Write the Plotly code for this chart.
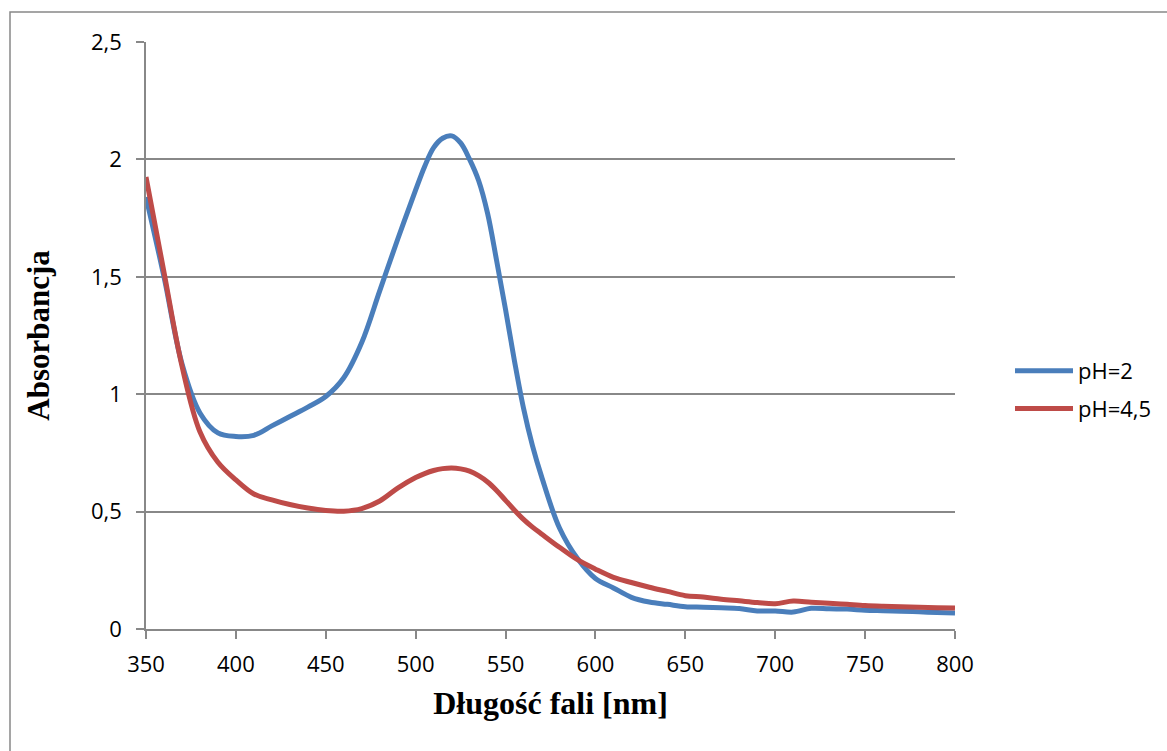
import plotly.graph_objects as go

wavelength = [350, 360, 370, 380, 390, 400, 410, 420, 430, 440, 450, 460, 470, 480, 490,
              500, 505, 510, 515, 520, 525, 530, 535, 540, 545, 550, 555, 560, 565, 570, 580, 590,
              600, 610, 620, 630, 640, 650, 660, 670, 680, 690, 700, 710, 720, 730, 740, 750,
              760, 770, 780, 790, 800]

abs_ph2 = [1.84, 1.50, 1.13, 0.92, 0.835, 0.82, 0.825, 0.865, 0.905, 0.945, 0.99, 1.07, 1.22, 1.44, 1.66,
           1.87, 1.97, 2.05, 2.09, 2.10, 2.07, 2.00, 1.91, 1.77, 1.57, 1.36, 1.14, 0.94, 0.78, 0.65, 0.43, 0.30,
           0.215, 0.175, 0.135, 0.115, 0.105, 0.095, 0.093, 0.090, 0.087, 0.077, 0.077, 0.072, 0.088, 0.086,
           0.085, 0.080, 0.078, 0.076, 0.073, 0.070, 0.068]

abs_ph45 = [1.925, 1.52, 1.12, 0.84, 0.71, 0.635, 0.575, 0.55, 0.53, 0.515, 0.505, 0.502, 0.513, 0.545, 0.60,
            0.645, 0.662, 0.675, 0.683, 0.686, 0.682, 0.672, 0.653, 0.626, 0.590, 0.548, 0.506, 0.467, 0.434,
            0.405, 0.348, 0.295, 0.255, 0.22, 0.198, 0.178, 0.16, 0.142, 0.136, 0.127, 0.12, 0.113, 0.108,
            0.119, 0.114, 0.11, 0.105, 0.10, 0.097, 0.095, 0.093, 0.091, 0.089]

series_names = ["pH=2", "pH=4,5"]
series_colors = ["#4A7EBB", "#BE4B48"]

x_ticks = [350, 400, 450, 500, 550, 600, 650, 700, 750, 800]
y_ticks = [0, 0.5, 1, 1.5, 2, 2.5]
y_tick_labels = ["0", "0,5", "1", "1,5", "2", "2,5"]

fig = go.Figure()
for name, vals, col in zip(series_names, [abs_ph2, abs_ph45], series_colors):
    fig.add_trace(go.Scatter(
        x=wavelength, y=vals, mode="lines", name=name, legendgroup=name,
        line=dict(color=col, width=5, shape="spline", smoothing=1.0),
    ))

grid = "#888888"
W, H = 1167, 751
L, R, T, B = 146, 212, 42, 122
pw, ph = W - L - R, H - T - B

fig.update_layout(
    width=W, height=H,
    margin=dict(l=L, r=R, t=T, b=B, autoexpand=False),
    paper_bgcolor="white", plot_bgcolor="white",
    font=dict(family="Open Sans", size=22, color="black"),
    showlegend=True,
    legend=dict(x=(1010 - L) / pw, xanchor="left", y=(629 - 390) / ph, yanchor="middle",
                font=dict(family="Open Sans", size=22, color="black"),
                itemwidth=58, tracegroupgap=6, bgcolor="rgba(0,0,0,0)"),
    xaxis=dict(range=[350, 800], tickvals=x_ticks, ticks="outside", ticklen=8, tickcolor=grid,
               tickwidth=1.5, showline=True, linecolor=grid, linewidth=1.5, showgrid=False,
               zeroline=False, tickfont=dict(family="Open Sans", size=22), ticklabelstandoff=7,
               title=dict(text="<b>Długość fali [nm]</b>", standoff=14,
                          font=dict(family="Liberation Serif", size=32))),
    yaxis=dict(range=[0, 2.5], tickvals=y_ticks, ticktext=y_tick_labels, ticks="outside", ticklen=8,
               tickcolor=grid, tickwidth=1.5, showline=True, linecolor=grid, linewidth=1.5,
               showgrid=True, gridcolor=grid, gridwidth=1.5, zeroline=False,
               tickfont=dict(family="Open Sans", size=22), ticklabelstandoff=10,
               title=dict(text="<b>Absorbancja</b>", standoff=32,
                          font=dict(family="Liberation Serif", size=31))),
    shapes=[dict(type="rect", xref="paper", yref="paper",
                 x0=(10 - L) / pw, x1=(1180 - L) / pw, y0=(629 - 760) / ph, y1=(629 - 12) / ph,
                 line=dict(color=grid, width=1.5), fillcolor="rgba(0,0,0,0)", layer="below")],
)

fig.write_html("out.html")
